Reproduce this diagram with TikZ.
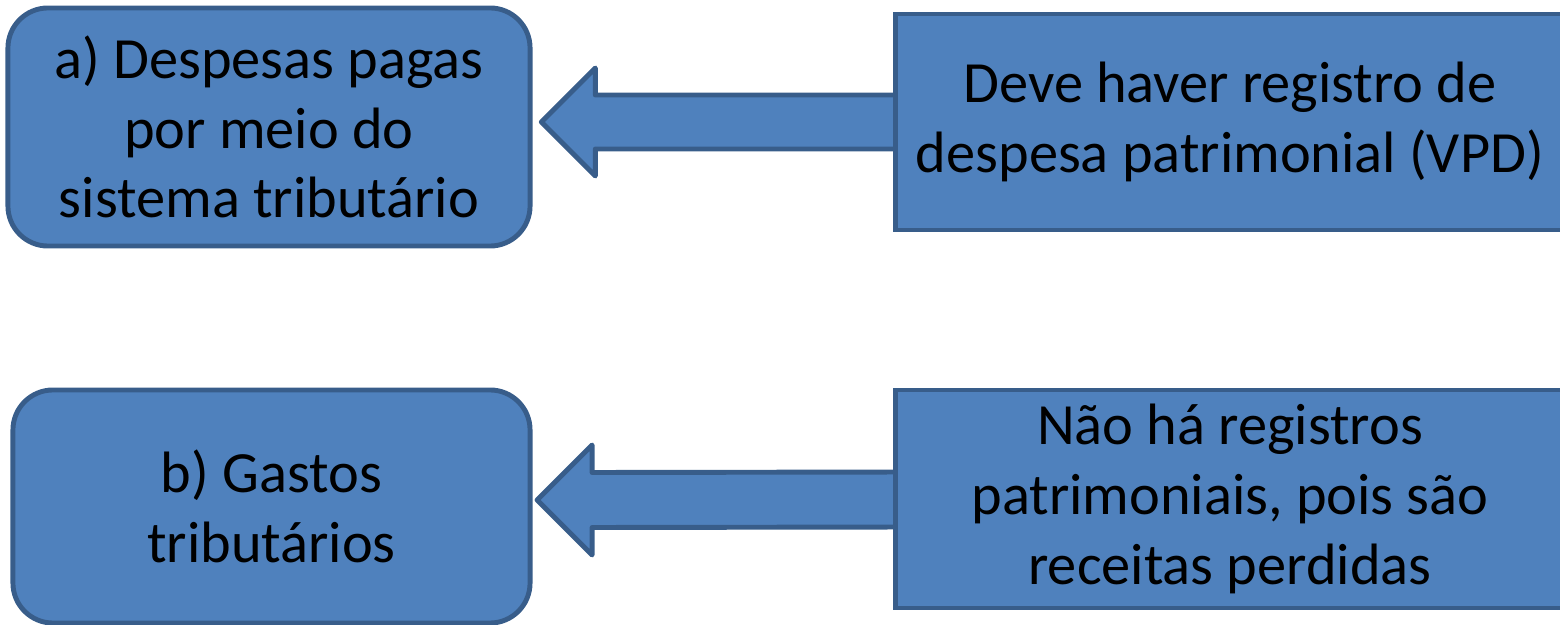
\documentclass[tikz,border=0pt]{standalone}
\usepackage{fontspec}
\setmainfont{Carlito}
\usepackage{xcolor}
\usetikzlibrary{calc,positioning}

\definecolor{boxfill}{HTML}{4F81BD}
\definecolor{boxline}{HTML}{385D8A}

\begin{document}
\begin{tikzpicture}[x=0.025cm, y=0.025cm,
    txt/.style={font=\fontsize{41.5}{49.5}\selectfont, align=center, text=black},
    roundbox/.style={draw=boxline, fill=boxfill, line width=3.5pt, rounded corners=1cm, inner sep=0pt, outer sep=0pt, txt},
    plainbox/.style={draw=boxline, fill=boxfill, line width=3.5pt, inner sep=0pt, outer sep=0pt, txt},
    fatarrow/.style={draw=boxline, fill=boxfill, line width=3.5pt, line join=round}]
    \useasboundingbox (0,0) rectangle (1560,625);
    \clip (0,0) rectangle (1560,625);

    % left boxes
    \node[roundbox, minimum width=13.05cm, minimum height=5.95cm] (despesas) at (269,498) {a) Despesas pagas\\por meio do\\sistema tributário};
    \node[roundbox, minimum width=12.925cm, minimum height=5.825cm] (gastos) at (271.5,118.5) {b) Gastos\\tributários};

    % arrow tips
    \coordinate (tipA) at ([xshift=8]despesas.east |- 0,503);
    \coordinate (tipB) at ([xshift=5]gastos.east |- 0,125);

    % arrows (drawn below the right boxes)
    \draw[fatarrow] (tipA) -- ++(54,54) -- ++(0,-27) -- ($(1235,503)+(0,27)$) -- ($(1235,503)+(0,-27)$) -- ($(tipA)+(54,-27)$) -- ++(0,-27) -- cycle;
    \draw[fatarrow] (tipB) -- ++(55,55) -- ++(0,-27.5) -- ($(1235,126)+(0,27.5)$) -- ($(1235,126)+(0,-27.5)$) -- ($(tipB)+(55,-27.5)$) -- ++(0,-27.5) -- cycle;

    % right boxes
    \node[plainbox, minimum width=16.9cm, minimum height=5.4cm] (registro) at (1233.5,503) {\hspace*{-5pt}Deve haver registro de\\\hspace*{-5pt}despesa patrimonial (VPD)};
    \node[plainbox, minimum width=16.9cm, minimum height=5.45cm] (semregistro) at (1233.5,126) {\hspace*{-5pt}Não há registros\\\hspace*{-5pt}patrimoniais, pois são\\\hspace*{-5pt}receitas perdidas};
\end{tikzpicture}
\end{document}
